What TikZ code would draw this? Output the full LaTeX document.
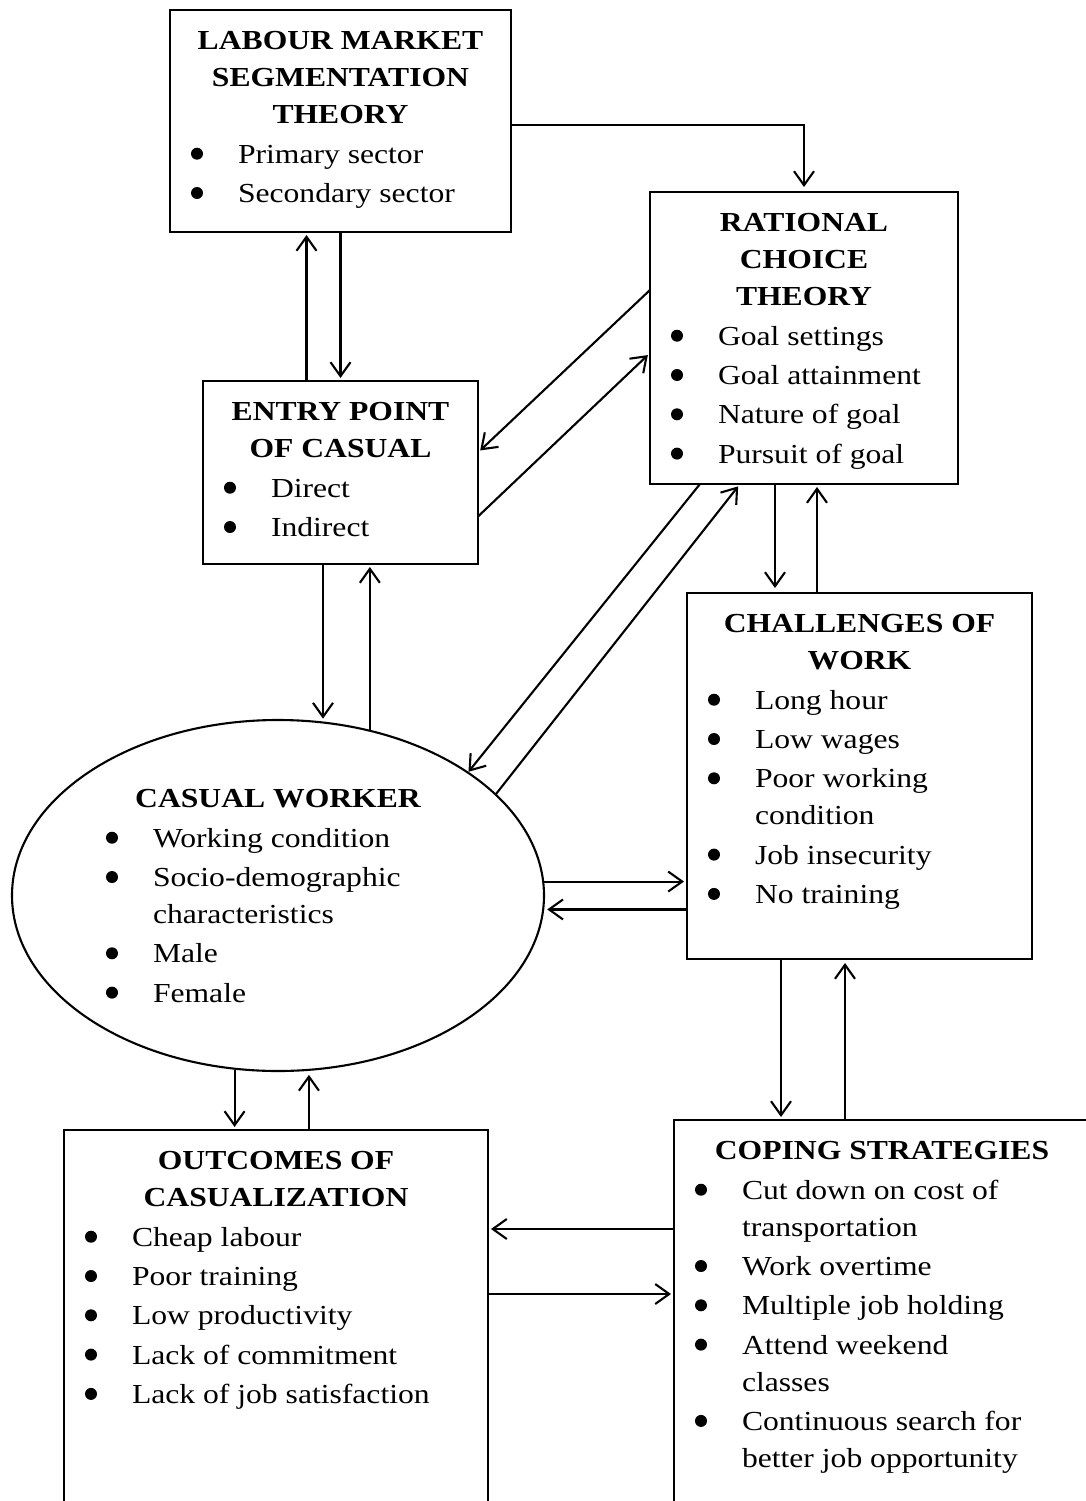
\documentclass[tikz,border=0pt]{standalone}
\usepackage{fontspec}
\setmainfont[FakeStretch=1.15]{Liberation Serif}
\usepackage{tikz}
\usetikzlibrary{arrows.meta, shapes.geometric}

% bullet item with hanging indent
\newcommand{\itm}[1]{\par\noindent\hangindent=68pt\hangafter=1\makebox[68pt][l]{\hspace{21pt}\tikz[baseline=-9.5pt]\fill (0pt,0pt) circle[radius=6pt];}#1}
% box body: width, height, heading, items
\newcommand{\boxtxt}[4]{\parbox[c][#2][t]{#1}{\vspace*{14pt}{\centering\bfseries\strut #3\par}\setlength{\parskip}{2.3pt}\raggedright #4}}

\begin{document}
\begin{tikzpicture}[
    x=1pt, y=-1pt,
    font=\fontsize{27.5}{37}\selectfont,
    box/.style={rectangle, draw=black, line width=2.1pt, inner sep=0pt, outer sep=0pt},
    oval/.style={ellipse, draw=black, line width=2.1pt, inner sep=0pt, minimum width=532pt, minimum height=351pt},
    plain/.style={inner sep=0pt, outer sep=0pt},
    arr/.style={line width=2.1pt, -{Straight Barb[length=14pt, width=20pt]}, shorten >=3pt}
]
\useasboundingbox (0,0) rectangle (1086,1501);

% Nodes
\node (lmst) [box, anchor=north west] at (170,10) {\boxtxt{341pt}{222pt}{LABOUR MARKET\\SEGMENTATION\\THEORY}{\itm{Primary sector}\itm{Secondary sector}}};
\node (rct) [box, anchor=north west] at (650,192) {\boxtxt{308pt}{292pt}{RATIONAL\\CHOICE\\THEORY}{\itm{Goal settings}\itm{Goal attainment}\itm{Nature of goal}\itm{Pursuit of goal}}};
\node (entry) [box, anchor=north west] at (203,381) {\boxtxt{275pt}{183pt}{ENTRY POINT\\OF CASUAL}{\itm{Direct}\itm{Indirect}}};
\node (chal) [box, anchor=north west] at (687,593) {\boxtxt{345pt}{366pt}{CHALLENGES OF\\WORK}{\itm{Long hour}\itm{Low wages}\itm{Poor working\newline condition}\itm{Job insecurity}\itm{No training}}};
\node (cw) [oval] at (278,895.5) {};
\node (cwt) [plain, anchor=north west] at (85,768) {\boxtxt{386pt}{260pt}{CASUAL WORKER}{\itm{Working condition}\itm{Socio-demographic\newline characteristics}\itm{Male}\itm{Female}}};
\node (outc) [box, anchor=north west] at (64,1130) {\boxtxt{424pt}{400pt}{OUTCOMES OF\\CASUALIZATION}{\itm{Cheap labour}\itm{Poor training}\itm{Low productivity}\itm{Lack of commitment}\itm{Lack of job satisfaction}}};
\node (cope) [box, anchor=north west] at (674,1120) {\boxtxt{416pt}{410pt}{COPING STRATEGIES}{\itm{Cut down on cost of\newline transportation}\itm{Work overtime}\itm{Multiple job holding}\itm{Attend weekend\newline classes}\itm{Continuous search for\newline better job opportunity}}};

% Connections
\draw [arr, shorten >=5pt] ([yshift=-4pt]lmst.east) -| (rct.north);
\draw [arr] (lmst.south) -- (entry.north);
\draw [arr] ([xshift=-34pt]entry.north) -- ([xshift=-34pt]lmst.south);
\draw [arr] ([yshift=-44pt]entry.east) -- ([yshift=-15pt]rct.west);
\draw [arr] ([yshift=48pt]rct.west) -- ([yshift=20pt]entry.east);
\draw [arr] ([xshift=-17.5pt]entry.south) -- ([xshift=-17.5pt]entry.south |- cw.75.4);
\draw [arr] (cw.61.4) -- (cw.61.4 |- entry.south);
\draw [arr, shorten >=0pt] ([xshift=-104pt]rct.south) -- (cw.33.6);
\draw [arr] (cw.25.3) -- ([xshift=-64pt]rct.south);
\draw [arr, shorten >=5pt] ([xshift=-29pt]rct.south) -- ([xshift=-29pt]rct.south |- chal.north);
\draw [arr] ([xshift=13pt]rct.south |- chal.north) -- ([xshift=13pt]rct.south);
\draw [arr] (cw.3.35) -- (cw.3.35 -| chal.west);
\draw [arr] (cw.-3.13 -| chal.west) -- (cw.-3.13);
\draw [arr] ([xshift=-78.5pt]chal.south) -- ([xshift=-78.5pt]chal.south |- cope.north);
\draw [arr, shorten >=4pt] ([xshift=-14.5pt]chal.south |- cope.north) -- ([xshift=-14.5pt]chal.south);
\draw [arr] (cw.-104.9) -- (cw.-104.9 |- outc.north);
\draw [arr, shorten >=4pt] (cw.-80.9 |- outc.north) -- (cw.-80.9);
\draw [arr] ([yshift=-109pt]cope.north west) -- ([yshift=-109pt]cope.north west -| outc.east);
\draw [arr] ([yshift=-164pt]outc.north east) -- ([yshift=-164pt]outc.north east -| cope.west);

\end{tikzpicture}
\end{document}
